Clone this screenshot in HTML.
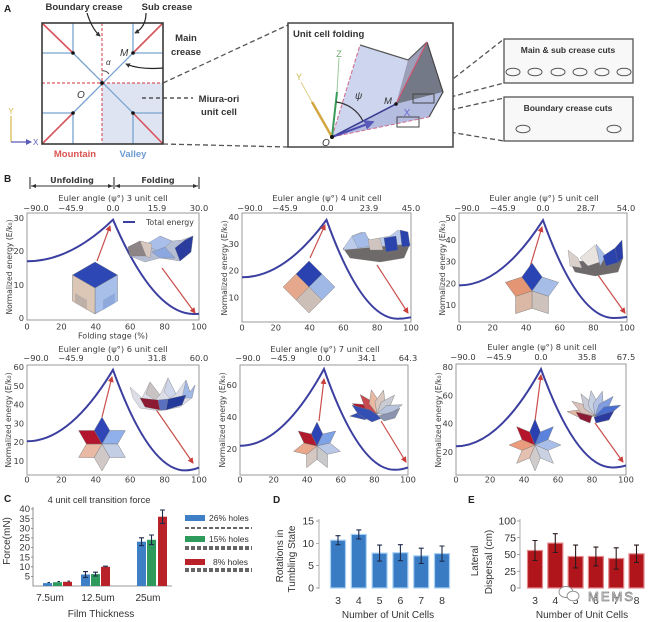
<!DOCTYPE html>
<html><head><meta charset="utf-8">
<style>html,body{margin:0;padding:0;background:#fff}svg{display:block}</style>
</head><body>
<svg width="654" height="622" viewBox="0 0 654 622" xmlns="http://www.w3.org/2000/svg">
<defs>
<marker id="ah" viewBox="0 0 6 6" refX="5" refY="3" markerWidth="5" markerHeight="5" orient="auto"><path d="M0,0 L6,3 L0,6z" fill="#c9403d"/></marker>
<marker id="ak" viewBox="0 0 6 6" refX="5" refY="3" markerWidth="4" markerHeight="4" orient="auto"><path d="M0,0 L6,3 L0,6z" fill="#333"/></marker>
<marker id="ab" viewBox="0 0 6 6" refX="5" refY="3" markerWidth="5" markerHeight="5" orient="auto"><path d="M0,0 L6,3 L0,6z" fill="#5a5ab8"/></marker>
</defs>
<rect width="654" height="622" fill="#fff"/>

<!-- ================= PANEL A ================= -->
<g font-family="Liberation Sans, Arial, sans-serif">
<text x="4" y="12" font-size="10" font-weight="bold" fill="#222">A</text>
<rect x="102" y="83" width="61" height="61" fill="#dfe4f3"/>
<path d="M73,23V53 M42,53H73 M133,23V53 M133,53H163 M73,113V144 M42,113H73 M133,113V144 M133,113H163 M73,53L133,113 M133,53L73,113" stroke="#79a3cf" stroke-width="1.3" fill="none"/>
<path d="M102,23V144 M42,83H163" stroke="#d65a62" stroke-width="1.2" stroke-dasharray="3,2" fill="none"/>
<path d="M42,23L73,53 M163,23L133,53 M42,144L73,113 M163,144L133,113" stroke="#d9535c" stroke-width="1.6" fill="none"/>
<rect x="42" y="23" width="121" height="121" fill="none" stroke="#3a3a3a" stroke-width="1.6"/>
<g fill="#111"><circle cx="73" cy="53" r="1.8"/><circle cx="133" cy="53" r="1.8"/><circle cx="73" cy="113" r="1.8"/><circle cx="133" cy="113" r="1.8"/><circle cx="102" cy="83" r="1.9"/></g>
<text x="120" y="56" font-size="10" font-style="italic" fill="#333">M</text>
<text x="77" y="98" font-size="10" font-style="italic" fill="#333">O</text>
<text x="106" y="65" font-size="8" font-style="italic" fill="#333">α</text>
<path d="M102,71 Q106,70 109,74" stroke="#333" fill="none" stroke-width="0.9"/>
<text x="84" y="10" font-size="9.5" font-weight="bold" fill="#333" text-anchor="middle">Boundary crease</text>
<text x="167" y="10" font-size="9.5" font-weight="bold" fill="#333" text-anchor="middle">Sub crease</text>
<text x="186" y="41" font-size="9.5" font-weight="bold" fill="#333" text-anchor="middle">Main</text>
<text x="186" y="55" font-size="9.5" font-weight="bold" fill="#333" text-anchor="middle">crease</text>
<text x="219" y="102" font-size="9.5" font-weight="bold" fill="#333" text-anchor="middle">Miura-ori</text>
<text x="219" y="115" font-size="9.5" font-weight="bold" fill="#333" text-anchor="middle">unit cell</text>
<path d="M87,13 Q92,29 100,36" stroke="#222" stroke-width="1.2" fill="none" marker-end="url(#ak)"/>
<path d="M146,13 Q146,27 135,33" stroke="#222" stroke-width="1.2" fill="none" marker-end="url(#ak)"/>
<path d="M163,68 Q140,70 126,64" stroke="#222" stroke-width="1.2" fill="none" marker-end="url(#ak)"/>
<path d="M142,98H193" stroke="#333" stroke-width="1.3" stroke-dasharray="4,3"/>
<text x="75" y="157" font-size="9.5" font-weight="bold" fill="#d9534f" text-anchor="middle">Mountain</text>
<text x="133" y="157" font-size="9.5" font-weight="bold" fill="#6b9bd1" text-anchor="middle">Valley</text>
<path d="M11,142V116" stroke="#d8b84a" stroke-width="1.2"/>
<text x="11" y="114" font-size="8" fill="#d8b84a" text-anchor="middle">Y</text>
<path d="M11,142H31" stroke="#5a5ab8" stroke-width="1.2" marker-end="url(#ab)"/>
<text x="33" y="145" font-size="8" fill="#5a5ab8">X</text>

<!-- connector dashed lines -->
<g stroke="#555" stroke-width="1.3" stroke-dasharray="5,3" fill="none">
<path d="M163,83L288,25"/>
<path d="M163,144L288,147"/>
<path d="M435,93L504,39"/>
<path d="M435,101L504,83"/>
<path d="M419,117L504,98"/>
<path d="M419,127L504,141"/>
</g>

<!-- Unit cell folding box -->
<rect x="288" y="23" width="165" height="124" fill="#fff" stroke="#444" stroke-width="1.5"/>
<text x="293" y="37" font-size="9.5" font-weight="bold" fill="#333">Unit cell folding</text>
<polygon points="332,137 360,45 408,60 396,104" fill="#cdd5ef"/>
<polygon points="332,137 396,104 443,92 429,117" fill="#b4bde0"/>
<polygon points="408,60 427,42 396,104" fill="#9c9fb8"/>
<polygon points="427,42 443,92 396,104" fill="#747988"/>
<path d="M427,42 L443,92 L429,117" stroke="#444" stroke-width="1.2" fill="none"/>
<path d="M360,45 L408,60 L427,42" stroke="#555" stroke-width="1.2" fill="none"/>
<path d="M396,104 L427,42" stroke="#d0506a" stroke-width="1.2"/>
<path d="M332,137 L360,45" stroke="#d07090" stroke-width="1.1" stroke-dasharray="4,2"/>
<path d="M332,137 L429,117" stroke="#d07090" stroke-width="1" stroke-dasharray="4,2"/>
<path d="M332,137 L396,104" stroke="#3a3a90" stroke-width="1.5"/>
<path d="M337,92 L339,58" stroke="#9cc99c" stroke-width="1"/>
<path d="M332,137 L337,92" stroke="#3a9a5a" stroke-width="2"/>
<text x="339" y="57" font-size="9" fill="#6aa86a" text-anchor="middle">Z</text>
<path d="M312,102 L301,82" stroke="#e0cf8a" stroke-width="1"/>
<path d="M332,137 L312,102" stroke="#d4a640" stroke-width="2.5"/>
<text x="299" y="80" font-size="9" fill="#cdb44a" text-anchor="middle">Y</text>
<path d="M332,137 L373,122" stroke="#4a4ab0" stroke-width="2" marker-end="url(#ab)"/>
<text x="407" y="116" font-size="10" fill="#6a6ad0" text-anchor="middle">X</text>
<path d="M336,102 A35,35 0 0 1 363,121" stroke="#333" stroke-width="1.2" fill="none"/>
<text x="355" y="99" font-size="10" font-style="italic" fill="#333">ψ</text>
<text x="384" y="104" font-size="9.5" font-style="italic" fill="#333">M</text>
<circle cx="396" cy="104" r="1.8" fill="#111"/>
<circle cx="332" cy="137" r="2" fill="#111"/>
<text x="322" y="146" font-size="10" font-style="italic" fill="#333">O</text>
<rect x="413" y="94" width="21" height="9" fill="none" stroke="#444" stroke-width="1"/>
<rect x="397" y="117" width="22" height="10" fill="none" stroke="#444" stroke-width="1"/>

<!-- cut boxes -->
<rect x="504" y="39" width="129" height="44" fill="#f8f8f9" stroke="#555" stroke-width="1.3"/>
<text x="568" y="53" font-size="8.5" font-weight="bold" fill="#333" text-anchor="middle">Main &amp; sub crease cuts</text>
<g fill="none" stroke="#555" stroke-width="1">
<ellipse cx="513" cy="72" rx="7" ry="3.8"/><ellipse cx="535" cy="72" rx="7" ry="3.8"/><ellipse cx="558" cy="72" rx="7" ry="3.8"/><ellipse cx="580" cy="72" rx="7" ry="3.8"/><ellipse cx="602" cy="72" rx="7" ry="3.8"/><ellipse cx="624" cy="72" rx="7" ry="3.8"/>
</g>
<rect x="504" y="97" width="129" height="44" fill="#f8f8f9" stroke="#555" stroke-width="1.3"/>
<text x="568" y="111" font-size="8.5" font-weight="bold" fill="#333" text-anchor="middle">Boundary crease cuts</text>
<g fill="none" stroke="#555" stroke-width="1">
<ellipse cx="523" cy="129" rx="7" ry="3.8"/><ellipse cx="614" cy="129" rx="7" ry="3.8"/>
</g>
</g>

<!-- ================= PANEL B ================= -->
<g font-family="DejaVu Sans, Liberation Sans, sans-serif" fill="#3a3a3a">
<text x="4" y="182" font-size="10" font-weight="bold" fill="#222" font-family="Liberation Sans, Arial, sans-serif">B</text>
<g stroke="#333" stroke-width="1.1">
<path d="M30,177V189 M114,177V189 M199,177V189"/>
<path d="M31,186H113 M115,186H198"/>
</g>
<g fill="#333">
<path d="M31,186 l5,-2 v4z"/><path d="M113,186 l-5,-2 v4z"/><path d="M115,186 l5,-2 v4z"/><path d="M198,186 l-5,-2 v4z"/>
</g>
<text x="72" y="183" font-size="8" font-weight="bold" text-anchor="middle">Unfolding</text>
<text x="158" y="183" font-size="8" font-weight="bold" text-anchor="middle">Folding</text>

<g fill="#fff" stroke="#9a9a9a" stroke-width="1">
<rect x="27" y="213" width="172" height="107"/>
<rect x="242" y="213" width="169" height="109"/>
<rect x="459" y="213" width="168" height="109"/>
<rect x="27" y="365" width="172" height="110"/>
<rect x="240" y="365" width="168" height="110"/>
<rect x="456" y="364" width="170" height="111"/>
</g>

<g font-size="8.3" text-anchor="middle">
<text x="113" y="201">Euler angle (ψ°) 3 unit cell</text>
<text x="327" y="201">Euler angle (ψ°) 4 unit cell</text>
<text x="544" y="201">Euler angle (ψ°) 5 unit cell</text>
<text x="113" y="352">Euler angle (ψ°) 6 unit cell</text>
<text x="325" y="352">Euler angle (ψ°) 7 unit cell</text>
<text x="542" y="350">Euler angle (ψ°) 8 unit cell</text>
</g>
<g font-size="8.3" text-anchor="middle">
<text x="36" y="211">−90.0</text><text x="71" y="211">−45.9</text><text x="113" y="211">0.0</text><text x="157" y="211">15.9</text><text x="199" y="211">30.0</text>
<text x="250" y="211">−90.0</text><text x="285" y="211">−45.9</text><text x="327" y="211">0.0</text><text x="369" y="211">23.9</text><text x="411" y="211">45.0</text>
<text x="467" y="211">−90.0</text><text x="503" y="211">−45.9</text><text x="543" y="211">0.0</text><text x="586" y="211">28.7</text><text x="626" y="211">54.0</text>
<text x="36" y="361">−90.0</text><text x="71" y="361">−45.9</text><text x="113" y="361">0.0</text><text x="157" y="361">31.8</text><text x="199" y="361">60.0</text>
<text x="248" y="361">−90.0</text><text x="283" y="361">−45.9</text><text x="324" y="361">0.0</text><text x="367" y="361">34.1</text><text x="408" y="361">64.3</text>
<text x="463" y="360">−90.0</text><text x="499" y="360">−45.9</text><text x="541" y="360">0.0</text><text x="587" y="360">35.8</text><text x="626" y="360">67.5</text>
</g>
<g font-size="8.3" text-anchor="middle">
<text x="27" y="329.5">0</text><text x="61.4" y="329.5">20</text><text x="95.8" y="329.5">40</text><text x="130.2" y="329.5">60</text><text x="164.6" y="329.5">80</text><text x="199" y="329.5">100</text>
<text x="242" y="330.5">0</text><text x="275.8" y="330.5">20</text><text x="309.6" y="330.5">40</text><text x="343.4" y="330.5">60</text><text x="377.2" y="330.5">80</text><text x="411" y="330.5">100</text>
<text x="459" y="330.5">0</text><text x="492.6" y="330.5">20</text><text x="526.2" y="330.5">40</text><text x="559.8" y="330.5">60</text><text x="593.4" y="330.5">80</text><text x="627" y="330.5">100</text>
<text x="27" y="482.5">0</text><text x="61.4" y="482.5">20</text><text x="95.8" y="482.5">40</text><text x="130.2" y="482.5">60</text><text x="164.6" y="482.5">80</text><text x="199" y="482.5">100</text>
<text x="240" y="482.5">0</text><text x="273.6" y="482.5">20</text><text x="307.2" y="482.5">40</text><text x="340.8" y="482.5">60</text><text x="374.4" y="482.5">80</text><text x="408" y="482.5">100</text>
<text x="456" y="482.5">0</text><text x="490" y="482.5">20</text><text x="524" y="482.5">40</text><text x="558" y="482.5">60</text><text x="592" y="482.5">80</text><text x="626" y="482.5">100</text>
</g>
<text x="113" y="338.5" font-size="8" text-anchor="middle">Folding stage (%)</text>
<g font-size="8.3" text-anchor="end">
<text x="24" y="321">0</text><text x="24" y="288">10</text><text x="24" y="254">20</text><text x="24" y="221">30</text>
<text x="239" y="300.3">10</text><text x="239" y="273.6">20</text><text x="239" y="247">30</text><text x="239" y="220.2">40</text>
<text x="456" y="308">10</text><text x="456" y="286.3">20</text><text x="456" y="264.5">30</text><text x="456" y="242.8">40</text><text x="456" y="221">50</text>
<text x="24" y="464">10</text><text x="24" y="445.2">20</text><text x="24" y="426.4">30</text><text x="24" y="407.6">40</text><text x="24" y="388.8">50</text><text x="24" y="370">60</text>
<text x="237" y="452">20</text><text x="237" y="420">40</text><text x="237" y="388">60</text>
<text x="453" y="455">20</text><text x="453" y="426.6">40</text><text x="453" y="398.3">60</text><text x="453" y="370">80</text>
</g>
<g font-size="7.6">
<text transform="translate(12,267) rotate(-90)" text-anchor="middle">Normalized energy (E/k₀)</text>
<text transform="translate(227,268) rotate(-90)" text-anchor="middle">Normalized energy (E/k₀)</text>
<text transform="translate(445,268) rotate(-90)" text-anchor="middle">Normalized energy (E/k₀)</text>
<text transform="translate(11,420) rotate(-90)" text-anchor="middle">Normalized energy (E/k₀)</text>
<text transform="translate(225,420) rotate(-90)" text-anchor="middle">Normalized energy (E/k₀)</text>
<text transform="translate(441,420) rotate(-90)" text-anchor="middle">Normalized energy (E/k₀)</text>
</g>

<g fill="none" stroke="#3b3f9f" stroke-width="2">
<path d="M27,261.3 Q70,261.3 113,219.7 Q153.4,314 193.8,314 Q196.4,314 199,313.7"/>
<path d="M242,277.3 Q284.3,277.3 326.5,219.9 Q362,318.7 397.5,318.7 Q404.2,318.7 411,317.3"/>
<path d="M459,285.4 Q501,285.4 543,220.2 Q578.3,318 613.6,318 Q620.3,318 627,317"/>
<path d="M27,441.3 Q70,441.3 113,369.8 Q149.1,470.4 185.2,470.4 Q192.1,470.4 199,467.6"/>
<path d="M240,445.8 Q282,445.8 324,369 Q359.3,469.8 394.6,469.8 Q401.3,469.8 408,467.4"/>
<path d="M456,446.3 Q498.5,446.3 541,369.1 Q576.7,467.5 612.4,467.5 Q619.2,467.5 626,465.4"/>
</g>
<path d="M123,222H135" stroke="#3b3f9f" stroke-width="2"/>
<text x="146" y="225" font-size="7.8">Total energy</text>

<g stroke="#c9504c" stroke-width="1.2" marker-end="url(#ah)">
<path d="M97,261L110,226"/><path d="M162,268L195,313"/>
<path d="M310,258L325,225"/><path d="M377,265L408,313"/>
<path d="M530,267L542,227"/><path d="M598,275L625,313"/>
<path d="M102,417L112,377"/><path d="M155,408L193,463"/>
<path d="M319,421L324,379"/><path d="M381,421L406,462"/>
<path d="M535,421L541,375"/><path d="M595,423L623,462"/>
</g>

<g stroke="#777" stroke-width="0.4">
<g transform="translate(95,288)">
<polygon points="0,0 -22.5,-13 0,-26 22.5,-13" fill="#2d48b5"/>
<polygon points="0,0 -22.5,-13 0,-26 22.5,-13" fill="#a8bfe9" transform="rotate(120)"/>
<polygon points="0,0 -22.5,-13 0,-26 22.5,-13" fill="#dcc6b6" transform="rotate(240)"/>
<polygon points="-20,5 -8,12 -8,22 -20,15" fill="#bdb0a8" stroke="none"/>
<polygon points="8,12 20,5 20,15 8,22" fill="#8fa9dd" stroke="none"/>
</g>
<g transform="translate(309,287)">
<polygon points="0,0 -13,-13 0,-26 13,-13" fill="#2a42b0"/>
<polygon points="0,0 -13,-13 0,-26 13,-13" fill="#9fb8e6" transform="rotate(90)"/>
<polygon points="0,0 -13,-13 0,-26 13,-13" fill="#cbbfb8" transform="rotate(180)"/>
<polygon points="0,0 -13,-13 0,-26 13,-13" fill="#e6a88c" transform="rotate(270)"/>
</g>
<g transform="translate(532,291)">
<polygon points="0,0 -10.2,-14 0,-28 10.2,-14" fill="#2b44b3"/>
<polygon points="0,0 -10.2,-14 0,-28 10.2,-14" fill="#a6bde8" transform="rotate(72)"/>
<polygon points="0,0 -10.2,-14 0,-28 10.2,-14" fill="#cdc3bc" transform="rotate(144)"/>
<polygon points="0,0 -10.2,-14 0,-28 10.2,-14" fill="#dbb7a5" transform="rotate(216)"/>
<polygon points="0,0 -10.2,-14 0,-28 10.2,-14" fill="#e49574" transform="rotate(288)"/>
</g>
<g transform="translate(102,444)">
<polygon points="0,0 -7.8,-13.5 0,-27 7.8,-13.5" fill="#2f45b8"/>
<polygon points="0,0 -7.8,-13.5 0,-27 7.8,-13.5" fill="#8fb0ea" transform="rotate(60)"/>
<polygon points="0,0 -7.8,-13.5 0,-27 7.8,-13.5" fill="#c3cde3" transform="rotate(120)"/>
<polygon points="0,0 -7.8,-13.5 0,-27 7.8,-13.5" fill="#cfc8c6" transform="rotate(180)"/>
<polygon points="0,0 -7.8,-13.5 0,-27 7.8,-13.5" fill="#e9b9a3" transform="rotate(240)"/>
<polygon points="0,0 -7.8,-13.5 0,-27 7.8,-13.5" fill="#b3152d" transform="rotate(300)"/>
</g>
<g transform="translate(317,446)">
<polygon points="0,0 -5.8,-12 0,-24 5.8,-12" fill="#2d44b5"/>
<polygon points="0,0 -5.8,-12 0,-24 5.8,-12" fill="#7da2e6" transform="rotate(51.4)"/>
<polygon points="0,0 -5.8,-12 0,-24 5.8,-12" fill="#b9c8e6" transform="rotate(102.9)"/>
<polygon points="0,0 -5.8,-12 0,-24 5.8,-12" fill="#c9c9cc" transform="rotate(154.3)"/>
<polygon points="0,0 -5.8,-12 0,-24 5.8,-12" fill="#d5c7c2" transform="rotate(205.7)"/>
<polygon points="0,0 -5.8,-12 0,-24 5.8,-12" fill="#e9a78c" transform="rotate(257.1)"/>
<polygon points="0,0 -5.8,-12 0,-24 5.8,-12" fill="#b01a2c" transform="rotate(308.6)"/>
</g>
<g transform="translate(535,445)">
<polygon points="0,0 -5.4,-13 0,-26 5.4,-13" fill="#2a40b0"/>
<polygon points="0,0 -5.4,-13 0,-26 5.4,-13" fill="#5b83de" transform="rotate(45)"/>
<polygon points="0,0 -5.4,-13 0,-26 5.4,-13" fill="#a9bfe9" transform="rotate(90)"/>
<polygon points="0,0 -5.4,-13 0,-26 5.4,-13" fill="#c9d1e3" transform="rotate(135)"/>
<polygon points="0,0 -5.4,-13 0,-26 5.4,-13" fill="#cfcccb" transform="rotate(180)"/>
<polygon points="0,0 -5.4,-13 0,-26 5.4,-13" fill="#e3c0b0" transform="rotate(225)"/>
<polygon points="0,0 -5.4,-13 0,-26 5.4,-13" fill="#e99b7c" transform="rotate(270)"/>
<polygon points="0,0 -5.4,-13 0,-26 5.4,-13" fill="#b5162b" transform="rotate(315)"/>
</g>
</g>

<g stroke="#777" stroke-width="0.3">
<polygon points="128,247 140,241 152,244 160,236 172,241 182,240 193,236 191,252 180,261 160,258 145,262 130,256" fill="#b6bed4"/>
<polygon points="145,245 160,236 172,241 160,252" fill="#a9bfea"/>
<polygon points="152,252 165,247 175,258 160,258" fill="#8da8e0"/>
<polygon points="175,248 185,240 193,236 191,252 180,261" fill="#2a3d9e"/>
<polygon points="128,247 140,241 146,256 130,256" fill="#8d8585"/>
<polygon points="140,241 152,244 150,258 146,256" fill="#d9c8bf"/>
<polygon points="343,248 410,244 404,258 380,262 350,258" fill="#6f6a6a"/>
<polygon points="345,246 352,236 362,232 370,240 380,238 390,236 398,230 405,234 410,244 343,250" fill="#bccbea"/>
<polygon points="352,236 365,232 372,246 358,248" fill="#a5bce8"/>
<polygon points="368,240 380,238 383,250 370,250" fill="#cfc4c0"/>
<polygon points="384,238 396,236 398,250 386,252" fill="#2b44ad"/>
<polygon points="400,230 408,232 410,246 402,247" fill="#2b44ad"/>
<polygon points="570,262 623,258 618,272 595,276 575,272" fill="#6e6a6b"/>
<polygon points="568,250 578,258 582,268 570,266" fill="#d9d0cc"/>
<polygon points="580,258 595,245 600,262 588,266" fill="#e9e3df"/>
<polygon points="596,244 606,256 600,266" fill="#a6bde8"/>
<polygon points="603,256 615,248 620,262 606,266" fill="#2b44ad"/>
<polygon points="615,248 622,240 623,258 618,262" fill="#2a40a8"/>
<polygon points="130,387 142,398 150,382 160,395 168,378 176,394 186,380 190,392 195,385 192,398 180,407 160,411 140,408 133,398" fill="#dcdde6"/>
<polygon points="150,382 160,395 155,400 146,394" fill="#c9c3c3"/>
<polygon points="168,378 176,394 170,398 164,392" fill="#d0d6ea"/>
<polygon points="186,380 190,392 195,385 192,398 182,398" fill="#9fb8e6"/>
<polygon points="140,398 158,400 160,410 145,407" fill="#8b1a32"/>
<polygon points="168,399 186,395 182,405 166,410" fill="#243a9a"/>
<polygon points="158,400 168,399 166,410 160,410" fill="#5a6fc0"/>
</g>
<!-- fan flowers (plots 5, 6) -->
<g stroke="#777" stroke-width="0.4">
<g transform="translate(377,414) scale(1.05,0.95)">
<polygon points="0,0 -5,-12 0,-26 5,-12" fill="#3550b5" transform="rotate(-95)"/>
<polygon points="0,0 -5,-12 0,-26 5,-12" fill="#b01a2c" transform="rotate(-65)"/>
<polygon points="0,0 -5,-12 0,-26 5,-12" fill="#c84a50" transform="rotate(-38)"/>
<polygon points="0,0 -5,-12 0,-26 5,-12" fill="#e9b9a3" transform="rotate(-12)"/>
<polygon points="0,0 -5,-12 0,-26 5,-12" fill="#d9c7c0" transform="rotate(14)"/>
<polygon points="0,0 -5,-12 0,-26 5,-12" fill="#c9cbd3" transform="rotate(40)"/>
<polygon points="0,0 -5,-12 0,-26 5,-12" fill="#b8c3dc" transform="rotate(68)"/>
</g>
<polygon points="352,405 370,410 382,418 372,422 358,414" fill="#3550b5"/>
<polygon points="378,416 392,412 400,408 395,418 384,421" fill="#8a93b0"/>
<g transform="translate(595,416) scale(1.05,0.95)">
<polygon points="0,0 -5,-12 0,-27 5,-12" fill="#e3b7a3" transform="rotate(-80)"/>
<polygon points="0,0 -5,-12 0,-27 5,-12" fill="#d9c0b8" transform="rotate(-55)"/>
<polygon points="0,0 -5,-12 0,-27 5,-12" fill="#c9ccd6" transform="rotate(-30)"/>
<polygon points="0,0 -5,-12 0,-27 5,-12" fill="#c7cfe3" transform="rotate(-8)"/>
<polygon points="0,0 -5,-12 0,-27 5,-12" fill="#b5c4e6" transform="rotate(15)"/>
<polygon points="0,0 -5,-12 0,-27 5,-12" fill="#7f9de0" transform="rotate(40)"/>
<polygon points="0,0 -5,-12 0,-27 5,-12" fill="#4a6fd0" transform="rotate(65)"/>
</g>
<polygon points="576,412 592,416 590,423 580,419" fill="#8b1a32"/>
<polygon points="594,417 614,411 609,420 596,423" fill="#2a3a9e"/>
</g>
</g>

<!-- ================= PANEL C ================= -->
<g font-family="Liberation Sans, Arial, sans-serif" fill="#333">
<text x="4" y="502" font-size="10" font-weight="bold" fill="#222">C</text>
<text x="99" y="503" font-size="9.3" text-anchor="middle">4 unit cell transition force</text>
<g font-size="9.5" text-anchor="end">
<text x="30" y="579.5">5</text><text x="30" y="570">10</text><text x="30" y="560.3">15</text><text x="30" y="550.7">20</text><text x="30" y="541.1">25</text><text x="30" y="531.5">30</text><text x="30" y="521.8">35</text><text x="30" y="512.2">40</text>
</g>
<path d="M33,507V586H172" stroke="#777" stroke-width="0.8" fill="none"/>
<g stroke="#777" stroke-width="0.8"><path d="M31,576.4H33 M31,566.8H33 M31,557.1H33 M31,547.5H33 M31,537.9H33 M31,528.3H33 M31,518.6H33 M31,509H33"/></g>
<rect x="43" y="583.1" width="9" height="2.9" fill="#3e7fc6"/>
<rect x="53" y="582.2" width="9" height="3.8" fill="#2e9a5c"/>
<rect x="63" y="581.8" width="9" height="4.2" fill="#b82228"/>
<rect x="81" y="574.5" width="9" height="11.5" fill="#3e7fc6"/>
<rect x="91" y="574.1" width="9" height="11.9" fill="#2e9a5c"/>
<rect x="101" y="566.8" width="9" height="19.2" fill="#b82228"/>
<rect x="137" y="541.7" width="9" height="44.3" fill="#3e7fc6"/>
<rect x="147" y="539.8" width="9" height="46.2" fill="#2e9a5c"/>
<rect x="158" y="516.7" width="9" height="69.3" fill="#b82228"/>
<g stroke="#1e2a4a" stroke-width="1.1" fill="none">
<path d="M85.5,571.6V577.4 M83,571.6H88 M83,577.4H88"/>
<path d="M95.5,572.2V576 M93,572.2H98 M93,576H98"/>
<path d="M141.5,537.8V545.6 M139,537.8H144 M139,545.6H144"/>
<path d="M151.5,535V544.6 M149,535H154 M149,544.6H154"/>
<path d="M162.5,510V523.4 M160,510H165 M160,523.4H165"/>
<path d="M105.5,566.2V567.4 M103,566.2H108"/>
<path d="M47.5,582.5H50 M57.5,581.6H60 M67.5,581.2H70"/>
</g>
<g font-size="10" text-anchor="middle">
<text x="50" y="601">7.5um</text><text x="98" y="601">12.5um</text><text x="148" y="601">25um</text>
</g>
<text x="101" y="617" font-size="10" text-anchor="middle">Film Thickness</text>
<text transform="translate(10,541) rotate(-90)" font-size="10" text-anchor="middle">Force(mN)</text>
<rect x="185" y="515" width="20" height="6" fill="#3e7fc6"/>
<text x="209" y="521" font-size="8.5">26% holes</text>
<rect x="185" y="536" width="20" height="6" fill="#2e9a5c"/>
<text x="209" y="542" font-size="8.5">15% holes</text>
<rect x="185" y="559" width="20" height="6" fill="#b82228"/>
<text x="213" y="565" font-size="8.5">8% holes</text>
<g stroke="#333" stroke-width="1.4" stroke-dasharray="4,2" fill="none">
<path d="M185,528H252"/><path d="M185,547H252"/><path d="M185,549H252"/><path d="M185,569H252"/><path d="M185,571H252"/>
</g>
</g>

<!-- ================= PANEL D ================= -->
<g font-family="Liberation Sans, Arial, sans-serif" fill="#333">
<text x="273" y="503" font-size="10" font-weight="bold" fill="#222">D</text>
<g font-size="10.5" text-anchor="end">
<text x="314" y="591.5">0</text><text x="314" y="569">5</text><text x="314" y="546.8">10</text><text x="314" y="524.5">15</text>
</g>
<path d="M319,519V589" stroke="#888" stroke-width="0.7"/>
<path d="M316,588H319 M316,565.6H319 M316,543.3H319 M316,521H319" stroke="#888" stroke-width="0.7"/>
<g fill="#3a7cc4" stroke="#a9d2f5" stroke-width="1.2">
<rect x="330.5" y="540.2" width="15" height="47.8"/>
<rect x="351.3" y="534.4" width="15" height="53.6"/>
<rect x="372.1" y="553.1" width="15" height="34.9"/>
<rect x="392.9" y="552.7" width="15" height="35.3"/>
<rect x="413.7" y="555.8" width="15" height="32.2"/>
<rect x="434.5" y="553.6" width="15" height="34.4"/>
</g>
<g stroke="#1e2a4a" stroke-width="1.1" fill="none">
<path d="M338,535.7V544.7 M335.5,535.7H340.5 M335.5,544.7H340.5"/>
<path d="M358.8,529.9V538.9 M356.3,529.9H361.3 M356.3,538.9H361.3"/>
<path d="M379.6,545.1V561.1 M377.1,545.1H382.1 M377.1,561.1H382.1"/>
<path d="M400.4,544.7V560.7 M397.9,544.7H402.9 M397.9,560.7H402.9"/>
<path d="M421.2,548.2V563.4 M418.7,548.2H423.7 M418.7,563.4H423.7"/>
<path d="M442,546V561.2 M439.5,546H444.5 M439.5,561.2H444.5"/>
</g>
<g font-size="10.5" text-anchor="middle">
<text x="338" y="604">3</text><text x="358.8" y="604">4</text><text x="379.6" y="604">5</text><text x="400.4" y="604">6</text><text x="421.2" y="604">7</text><text x="442" y="604">8</text>
</g>
<text x="388" y="618" font-size="10" text-anchor="middle">Number of Unit Cells</text>
<text transform="translate(283,556) rotate(-90)" font-size="10" text-anchor="middle">Rotations in</text>
<text transform="translate(295,559) rotate(-90)" font-size="10" text-anchor="middle">Tumbling State</text>
</g>

<!-- ================= PANEL E ================= -->
<g font-family="Liberation Sans, Arial, sans-serif" fill="#333">
<text x="468" y="503" font-size="10" font-weight="bold" fill="#222">E</text>
<g font-size="10.5" text-anchor="end">
<text x="516" y="591.5">0</text><text x="516" y="574.8">25</text><text x="516" y="558">50</text><text x="516" y="541.3">75</text><text x="516" y="524.5">100</text>
</g>
<path d="M520,519V589" stroke="#888" stroke-width="0.7"/>
<path d="M517,588H520 M517,571.25H520 M517,554.5H520 M517,537.75H520 M517,521H520" stroke="#888" stroke-width="0.7"/>
<g fill="#b0151c" stroke="#e38a8c" stroke-width="1.2">
<rect x="527.5" y="550.5" width="15" height="37.5"/>
<rect x="547.8" y="543.1" width="15" height="44.9"/>
<rect x="568.1" y="556.5" width="15" height="31.5"/>
<rect x="588.4" y="556.5" width="15" height="31.5"/>
<rect x="608.7" y="558.5" width="15" height="29.5"/>
<rect x="629" y="553.8" width="15" height="34.2"/>
</g>
<g stroke="#2a1a1a" stroke-width="1.1" fill="none">
<path d="M535,540.5V560.5 M532.5,540.5H537.5 M532.5,560.5H537.5"/>
<path d="M555.3,533.7V552.5 M552.8,533.7H557.8 M552.8,552.5H557.8"/>
<path d="M575.6,545.1V567.9 M573.1,545.1H578.1 M573.1,567.9H578.1"/>
<path d="M595.9,547.1V565.9 M593.4,547.1H598.4 M593.4,565.9H598.4"/>
<path d="M616.2,547.8V569.2 M613.7,547.8H618.7 M613.7,569.2H618.7"/>
<path d="M636.5,545.1V562.5 M634,545.1H639 M634,562.5H639"/>
</g>
<g font-size="10.5" text-anchor="middle">
<text x="535" y="604">3</text><text x="555.3" y="604">4</text><text x="575.6" y="604">5</text><text x="595.9" y="604">6</text><text x="616.2" y="604">7</text><text x="636.5" y="604">8</text>
</g>
<text x="582" y="618" font-size="10" text-anchor="middle">Number of Unit Cells</text>
<text transform="translate(478,561) rotate(-90)" font-size="10" text-anchor="middle">Lateral</text>
<text transform="translate(492,562) rotate(-90)" font-size="10" text-anchor="middle">Dispersal (cm)</text>
<g fill="#fff" stroke="#8a8a8a" stroke-width="0.9">
<ellipse cx="566" cy="592" rx="7" ry="5.5"/>
<ellipse cx="573" cy="596" rx="6" ry="4.8"/>
</g>
<text x="588" y="601" font-size="13" fill="#fff" stroke="#8a8a8a" stroke-width="0.8" textLength="45">MEMS</text>
</g>
</svg>
</body></html>
